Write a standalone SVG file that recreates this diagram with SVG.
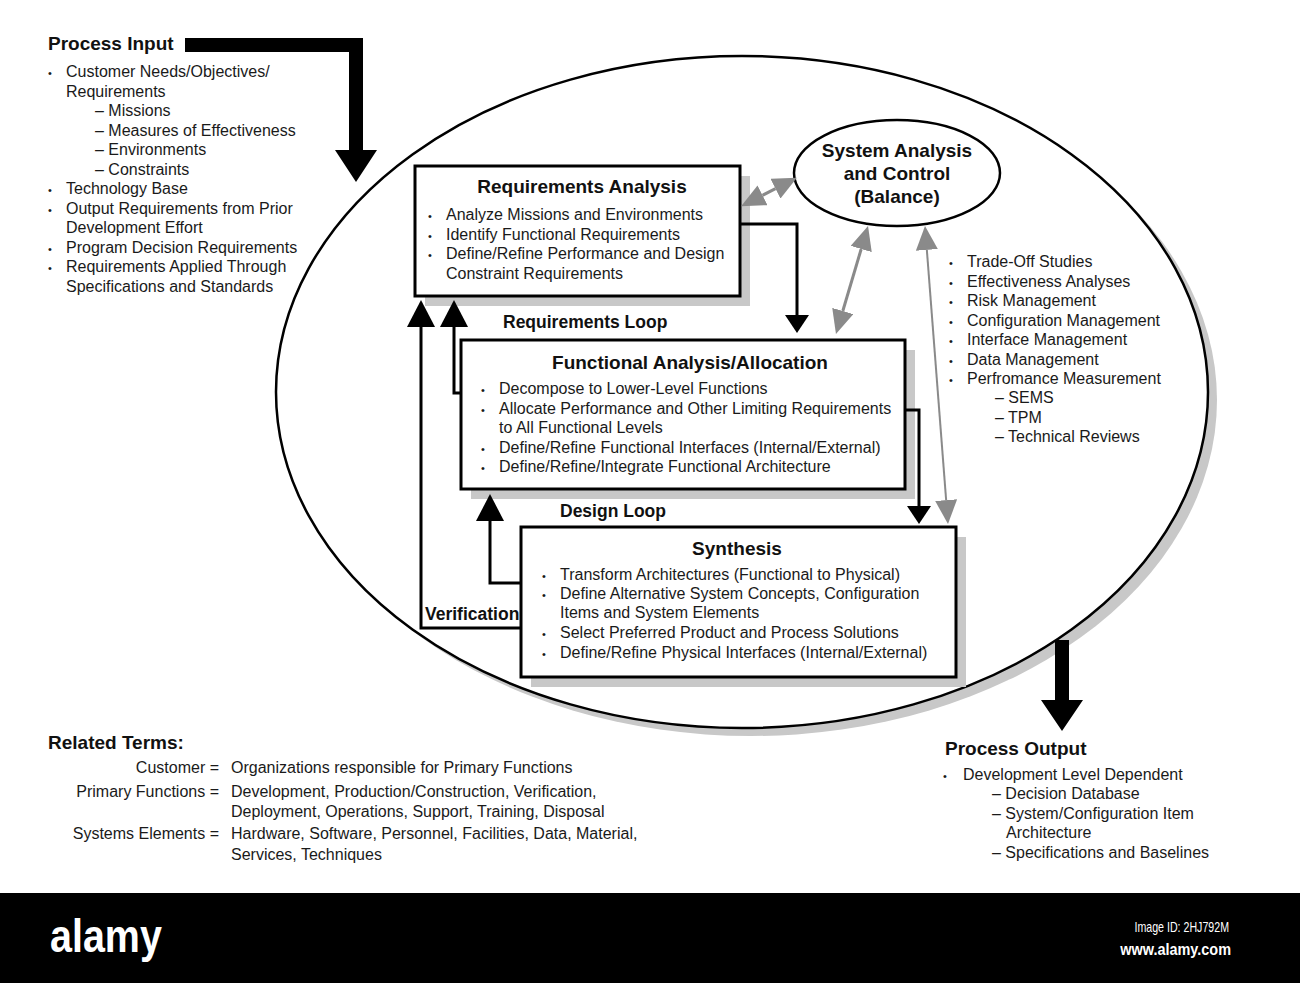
<svg xmlns="http://www.w3.org/2000/svg" width="1300" height="983" viewBox="0 0 1300 983">
<style>
text{font-family:"Liberation Sans",Arial,sans-serif;fill:#1a1a1a}
.t{font-size:16px}
.h{font-size:19px;font-weight:bold;fill:#111}
.lb{font-size:17.5px;font-weight:bold;fill:#111}
.b{font-size:11px}
.e{text-anchor:end}
.m{text-anchor:middle}
.box{fill:#fff;stroke:#000;stroke-width:3}
.sh{fill:#c8c8c8}
.blk{fill:none;stroke:#000;stroke-width:3}
.gry{fill:none;stroke:#8a8a8a;stroke-width:3}
.fat{fill:#000}
</style>
<defs>
<marker id="up" viewBox="0 0 10 10" refX="0" refY="5" markerWidth="27" markerHeight="28" markerUnits="userSpaceOnUse" orient="auto" preserveAspectRatio="none"><path d="M0,0L10,5L0,10z" fill="#000"/></marker>
<marker id="dn" viewBox="0 0 10 10" refX="0" refY="5" markerWidth="18" markerHeight="24" markerUnits="userSpaceOnUse" orient="auto" preserveAspectRatio="none"><path d="M0,0L10,5L0,10z" fill="#000"/></marker>
<marker id="g" viewBox="0 0 10 10" refX="0" refY="5" markerWidth="24" markerHeight="22" markerUnits="userSpaceOnUse" orient="auto-start-reverse" preserveAspectRatio="none"><path d="M0,0L10,5L0,10z" fill="#8a8a8a"/></marker>
</defs>
<rect width="1300" height="983" fill="#fff"/>

<g id="system-boundary">
<ellipse cx="751" cy="400" rx="466" ry="336" class="sh"/>
<ellipse cx="742" cy="392" rx="466" ry="336" fill="#fff" stroke="#000" stroke-width="2.5"/>
</g>

<g id="process-input">
<text x="48" y="50" class="h">Process Input</text>
<text x="48" y="77" class="b">•</text><text x="66" y="77" class="t">Customer Needs/Objectives/</text>
<text x="66" y="96.5" class="t">Requirements</text>
<text x="95" y="116" class="t">– Missions</text>
<text x="95" y="135.5" class="t">– Measures of Effectiveness</text>
<text x="95" y="155" class="t">– Environments</text>
<text x="95" y="174.5" class="t">– Constraints</text>
<text x="48" y="194" class="b">•</text><text x="66" y="194" class="t">Technology Base</text>
<text x="48" y="213.5" class="b">•</text><text x="66" y="213.5" class="t">Output Requirements from Prior</text>
<text x="66" y="233" class="t">Development Effort</text>
<text x="48" y="252.5" class="b">•</text><text x="66" y="252.5" class="t">Program Decision Requirements</text>
<text x="48" y="272" class="b">•</text><text x="66" y="272" class="t">Requirements Applied Through</text>
<text x="66" y="291.5" class="t">Specifications and Standards</text>
</g>

<g id="requirements-analysis">
<rect x="425" y="176" width="325" height="130" class="sh"/>
<rect x="415" y="166" width="325" height="130" class="box"/>
<text x="582" y="193" class="h m">Requirements Analysis</text>
<text x="428" y="220" class="b">•</text><text x="446" y="220" class="t">Analyze Missions and Environments</text>
<text x="428" y="240" class="b">•</text><text x="446" y="240" class="t">Identify Functional Requirements</text>
<text x="428" y="259" class="b">•</text><text x="446" y="259" class="t">Define/Refine Performance and Design</text>
<text x="446" y="279" class="t">Constraint Requirements</text>
</g>

<g id="system-analysis-control">
<ellipse cx="897" cy="173" rx="103" ry="53" fill="#fff" stroke="#000" stroke-width="2.5"/>
<text x="897" y="157" class="h m">System Analysis</text>
<text x="897" y="180" class="h m">and Control</text>
<text x="897" y="203" class="h m">(Balance)</text>
</g>

<g id="functional-analysis">
<rect x="471" y="350" width="444" height="149" class="sh"/>
<rect x="461" y="340" width="444" height="149" class="box"/>
<text x="690" y="369" class="h m">Functional Analysis/Allocation</text>
<text x="481" y="394" class="b">•</text><text x="499" y="394" class="t">Decompose to Lower-Level Functions</text>
<text x="481" y="414" class="b">•</text><text x="499" y="414" class="t">Allocate Performance and Other Limiting Requirements</text>
<text x="499" y="433" class="t">to All Functional Levels</text>
<text x="481" y="453" class="b">•</text><text x="499" y="453" class="t">Define/Refine Functional Interfaces (Internal/External)</text>
<text x="481" y="472" class="b">•</text><text x="499" y="472" class="t">Define/Refine/Integrate Functional Architecture</text>
</g>

<g id="synthesis">
<rect x="531" y="537" width="435" height="150" class="sh"/>
<rect x="521" y="527" width="435" height="150" class="box"/>
<text x="737" y="555" class="h m">Synthesis</text>
<text x="542" y="580" class="b">•</text><text x="560" y="580" class="t">Transform Architectures (Functional to Physical)</text>
<text x="542" y="599" class="b">•</text><text x="560" y="599" class="t">Define Alternative System Concepts, Configuration</text>
<text x="560" y="618" class="t">Items and System Elements</text>
<text x="542" y="638" class="b">•</text><text x="560" y="638" class="t">Select Preferred Product and Process Solutions</text>
<text x="542" y="658" class="b">•</text><text x="560" y="658" class="t">Define/Refine Physical Interfaces (Internal/External)</text>
</g>

<g id="system-analysis-tools">
<text x="949" y="267" class="b">•</text><text x="967" y="267" class="t">Trade-Off Studies</text>
<text x="949" y="287" class="b">•</text><text x="967" y="287" class="t">Effectiveness Analyses</text>
<text x="949" y="306" class="b">•</text><text x="967" y="306" class="t">Risk Management</text>
<text x="949" y="326" class="b">•</text><text x="967" y="326" class="t">Configuration Management</text>
<text x="949" y="345" class="b">•</text><text x="967" y="345" class="t">Interface Management</text>
<text x="949" y="365" class="b">•</text><text x="967" y="365" class="t">Data Management</text>
<text x="949" y="384" class="b">•</text><text x="967" y="384" class="t">Perfromance Measurement</text>
<text x="995" y="403" class="t">– SEMS</text>
<text x="995" y="423" class="t">– TPM</text>
<text x="995" y="442" class="t">– Technical Reviews</text>
</g>

<g id="connectors">
<path d="M185,38H363V150H377L356,182L335,150H349V52H185Z" class="fat"/>
<path d="M1055,640H1069V700H1083L1062,731L1041,700H1055Z" class="fat"/>
<path d="M740,224H797V315" class="blk" marker-end="url(#dn)"/>
<path d="M905,410H919V506" class="blk" marker-end="url(#dn)"/>
<path d="M521,583H490V521" class="blk" marker-end="url(#up)"/>
<path d="M521,628H421V327" class="blk" marker-end="url(#up)"/>
<path d="M461,393H454V327" class="blk" marker-end="url(#up)"/>
<path d="M762.5,195.3L775.5,188.7" class="gry" marker-start="url(#g)" marker-end="url(#g)"/>
<path d="M861.2,249L842.8,311" class="gry" marker-start="url(#g)" marker-end="url(#g)"/>
<path d="M926.85,249.9L946.15,500.1" class="gry" style="stroke-width:2" marker-start="url(#g)" marker-end="url(#g)"/>
<text x="503" y="328" class="lb">Requirements Loop</text>
<text x="560" y="517" class="lb">Design Loop</text>
<text x="425" y="620" class="lb">Verification</text>
</g>

<g id="process-output">
<text x="945" y="755" class="h">Process Output</text>
<text x="943" y="780" class="b">•</text><text x="963" y="780" class="t">Development Level Dependent</text>
<text x="992" y="799" class="t">– Decision Database</text>
<text x="992" y="819" class="t">– System/Configuration Item</text>
<text x="1006" y="838" class="t">Architecture</text>
<text x="992" y="858" class="t">– Specifications and Baselines</text>
</g>

<g id="related-terms">
<text x="48" y="749" class="h">Related Terms:</text>
<text x="219" y="773" class="t e">Customer =</text>
<text x="231" y="773" class="t">Organizations responsible for Primary Functions</text>
<text x="219" y="797" class="t e">Primary Functions =</text>
<text x="231" y="797" class="t">Development, Production/Construction, Verification,</text>
<text x="231" y="817" class="t">Deployment, Operations, Support, Training, Disposal</text>
<text x="219" y="839" class="t e">Systems Elements =</text>
<text x="231" y="839" class="t">Hardware, Software, Personnel, Facilities, Data, Material,</text>
<text x="231" y="860" class="t">Services, Techniques</text>
</g>

<g id="banner">
<rect x="0" y="893" width="1300" height="90" fill="#000"/>
<text transform="translate(50,952) scale(0.84,1)" style="font-size:47px;font-weight:bold;fill:#fff">alamy</text>
<text transform="translate(1229,932) scale(0.76,1)" class="e" style="font-size:14px;fill:#fff">Image ID: 2HJ792M</text>
<text transform="translate(1231,955) scale(0.85,1)" class="e" style="font-size:17px;font-weight:bold;fill:#fff">www.alamy.com</text>
</g>
</svg>
